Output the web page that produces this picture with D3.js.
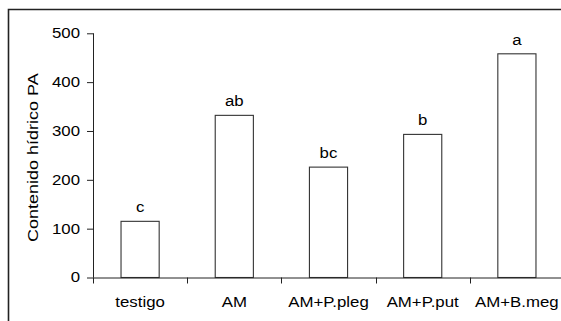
<!DOCTYPE html>
<html>
<head>
<meta charset="utf-8">
<script src="https://cdn.jsdelivr.net/npm/d3@7/dist/d3.min.js"></script>
<style>
  html, body { margin: 0; padding: 0; background: #fff; }
  svg { display: block; }
  text { font-family: "Liberation Sans", Arial, sans-serif; fill: #000; }
</style>
</head>
<body>
<svg id="chart" width="561" height="321"></svg>
<script>
// Water content per treatment, with significance letters
const categories = ["testigo", "AM", "AM+P.pleg", "AM+P.put", "AM+B.meg"];
const values = [115, 332, 226, 293, 458];
const letters = ["c", "ab", "bc", "b", "a"];
const yTicks = [0, 100, 200, 300, 400, 500];
const yTitle = "Contenido hídrico PA";

const svg = d3.select("#chart");
const W = 561, H = 321;

const plot = { left: 93, right: 564, top: 33.3, bottom: 277.5 };

const x = d3.scaleBand().domain(categories).range([plot.left, plot.right]).padding(0);
const y = d3.scaleLinear().domain([0, 500]).range([plot.bottom, plot.top]);

// Outer frame (runs off the right and bottom edges)
svg.append("path")
  .attr("d", `M8.5,${H + 5} L8.5,9.5 L${W + 5},9.5`)
  .attr("fill", "none")
  .attr("stroke", "#222")
  .attr("stroke-width", 1.6);

// Bars
const barW = x.bandwidth() * 0.405;
svg.append("g").selectAll("rect")
  .data(categories)
  .join("rect")
  .attr("x", (d) => x(d) + x.bandwidth() / 2 - barW / 2)
  .attr("y", (d, i) => y(values[i]))
  .attr("width", barW)
  .attr("height", (d, i) => y(0) - y(values[i]))
  .attr("fill", "#fff")
  .attr("stroke", "#333")
  .attr("stroke-width", 1.1);

// Letters above bars
const letterG = svg.append("g");
letterG.selectAll("text")
  .data(categories)
  .join("text")
  .attr("class", "stretch")
  .attr("x", (d) => x(d) + x.bandwidth() / 2)
  .attr("y", (d, i) => y(values[i]) - 9)
  .attr("text-anchor", "middle")
  .attr("font-size", 14)
  .text((d, i) => letters[i]);

// Y axis
const yAxis = svg.append("g")
  .attr("transform", `translate(${plot.left},0)`)
  .call(d3.axisLeft(y).tickValues(yTicks).tickSize(6).tickPadding(7));
yAxis.select(".domain").attr("d", `M0.5,${plot.top}V${plot.bottom}`).attr("stroke", "#222");
yAxis.selectAll(".tick line").attr("stroke", "#222").attr("x1", 0.5);
yAxis.selectAll(".tick text")
  .attr("class", "stretch")
  .attr("font-size", 14)
  .attr("font-family", null);

// X axis
const xAxis = svg.append("g")
  .attr("transform", `translate(0,${plot.bottom})`);
xAxis.append("path")
  .attr("d", `M${plot.left},0.5H${W + 5}`)
  .attr("stroke", "#222")
  .attr("fill", "none");
const bounds = categories.map((d) => x(d)).concat([plot.right]);
xAxis.selectAll("line")
  .data(bounds)
  .join("line")
  .attr("x1", (d) => Math.round(d) + 0.5)
  .attr("x2", (d) => Math.round(d) + 0.5)
  .attr("y1", 0)
  .attr("y2", 6)
  .attr("stroke", "#222");
xAxis.selectAll("text")
  .data(categories)
  .join("text")
  .attr("class", "stretch")
  .attr("x", (d) => x(d) + x.bandwidth() / 2)
  .attr("y", 29)
  .attr("text-anchor", "middle")
  .attr("font-size", 14)
  .text((d) => d);

// Y axis title
svg.append("text")
  .attr("class", "stretch")
  .attr("transform", `translate(38,${(72.7 + 242.7) / 2}) rotate(-90)`)
  .attr("text-anchor", "middle")
  .attr("font-size", 15)
  .text(yTitle);

// Slightly wider glyph set along the writing direction
svg.selectAll("text.stretch").each(function () {
  const len = this.getComputedTextLength();
  d3.select(this)
    .attr("textLength", len * 1.2)
    .attr("lengthAdjust", "spacingAndGlyphs");
});
</script>
</body>
</html>
